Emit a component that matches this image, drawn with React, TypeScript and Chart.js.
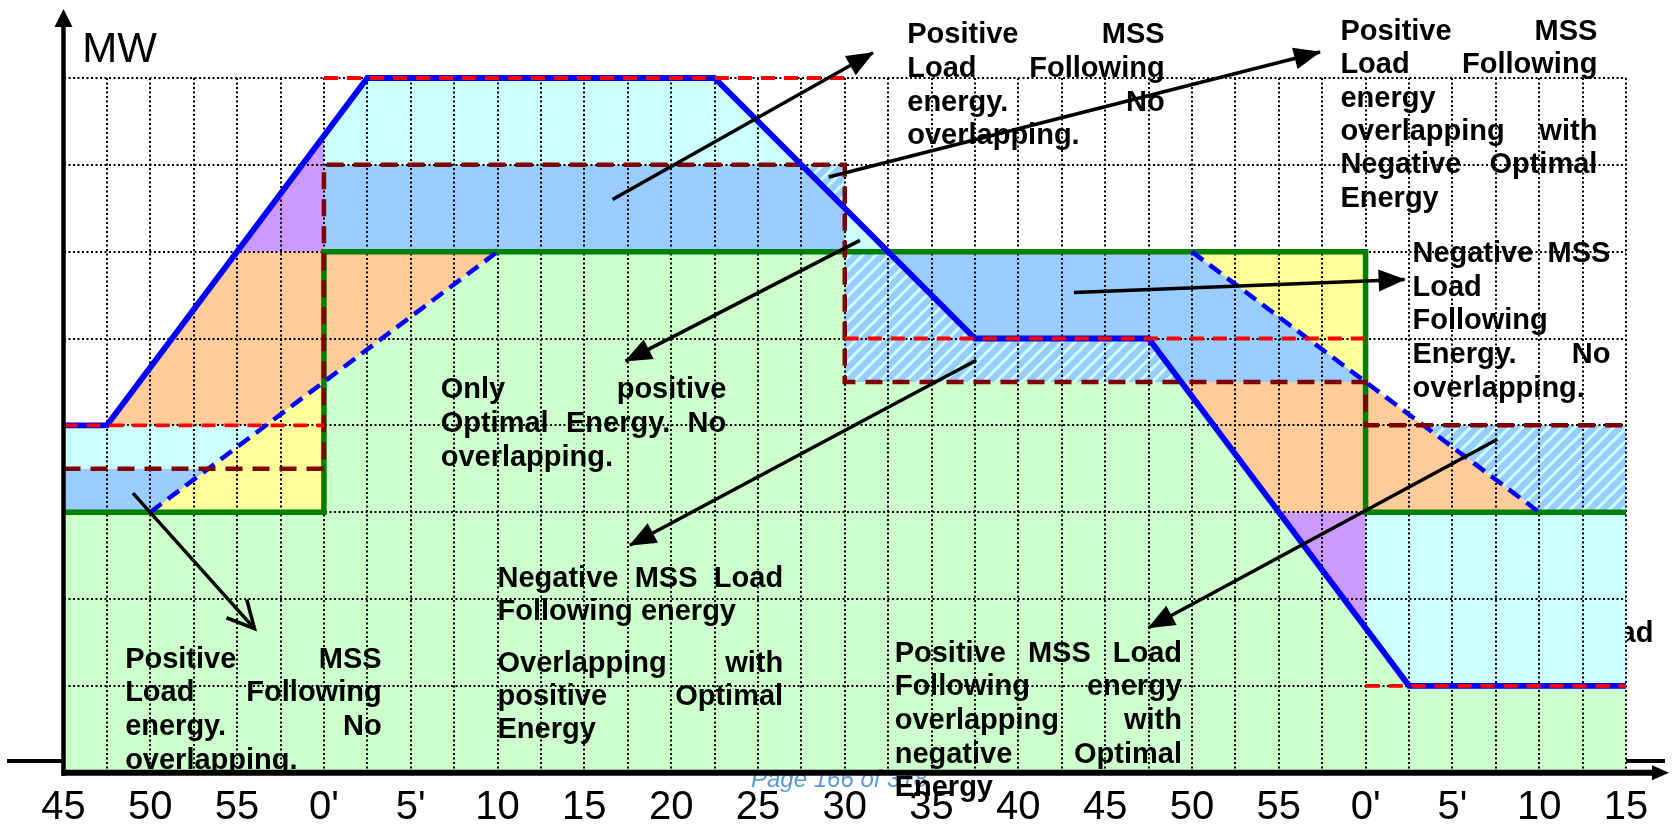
import React, { useEffect, useRef } from 'react';
import { Chart, registerables } from 'chart.js';

Chart.register(...registerables);

const W = 1675;
const H = 825;

// x: grid step (one step = 2.5 minutes), y: MW level
type P = [number, number];

const xTickLabels = ["45", "50", "55", "0'", "5'", "10", "15", "20", "25", "30", "35", "40", "45", "50", "55", "0'", "5'", "10", "15"];
const xMin = 0;
const xMax = 36;
const yMin = 0;
const yMax = 8;

// lines
const optimalSchedule: P[] = [[0, 3], [6, 3], [6, 6], [30, 6], [30, 3], [36, 3]];
const mssLoadFollowing: P[] = [[0, 4], [1, 4], [7, 8], [15, 8], [21, 5], [25, 5], [31, 1], [36, 1]];
const mssSchedule: P[][] = [
  [[0, 4], [6, 4]],
  [[6, 8], [18, 8]],
  [[18, 5], [30, 5]],
  [[30, 1], [36, 1]],
];
const mssBand: P[] = [[0, 3.5], [6, 3.5], [6, 7], [18, 7], [18, 4.5], [30, 4.5], [30, 4], [36, 4]];
const optimalRamps: P[][] = [
  [[2, 3], [10, 6]],
  [[26, 6], [34, 3]],
];

// filled areas
const areaGreen: P[] = [[0, 0], [0, 3], [6, 3], [6, 6], [30, 6], [30, 3], [36, 3], [36, 0]];
const areaBlueLeft: P[] = [[0, 3], [0, 3.5], [3.333, 3.5], [2, 3]];
const areaCyanLeft: P[] = [[0, 3.5], [0, 4], [4.667, 4], [3.333, 3.5]];
const areaYellowLeft: P[] = [[2, 3], [6, 3], [6, 4.5]];
const areaOrangeLeft: P[] = [[1, 4], [4, 6], [10, 6], [4.667, 4]];
const areaPurpleLeft: P[] = [[4, 6], [6, 6], [6, 7.333]];
const areaCyanTop: P[] = [[6, 7], [6, 7.333], [7, 8], [15, 8], [17, 7]];
const areaBlueTop: P[] = [[6, 6], [6, 7], [17, 7], [18, 6.5], [18, 6]];
const areaHatchTop: P[] = [[17, 7], [18, 7], [18, 6.5]];
const areaCyanMid: P[] = [[18, 6], [18, 6.5], [19, 6]];
const areaHatchMid: P[] = [[18, 4.5], [18, 6], [19, 6], [21, 5], [25, 5], [25.75, 4.5]];
const areaBlueMid: P[] = [[19, 6], [26, 6], [30, 4.5], [25.75, 4.5], [25, 5], [21, 5]];
const areaYellowRight: P[] = [[26, 6], [30, 6], [30, 4.5]];
const areaOrangeRight: P[] = [[25.75, 4.5], [30, 4.5], [34, 3], [28, 3]];
const areaPurpleRight: P[] = [[28, 3], [30, 3], [30, 1.667]];
const areaCyanRight: P[] = [[30, 3], [36, 3], [36, 1], [31, 1], [30, 1.667]];
const areaHatchRight: P[] = [[31.333, 4], [36, 4], [36, 3], [34, 3]];

// annotation arrows (tail -> head)
const arrowA: P[] = [[12.65, 6.6], [18.65, 8.29]];
const arrowB: P[] = [[17.63, 6.86], [28.95, 8.3]];
const arrowC: P[] = [[18.35, 6.13], [12.95, 4.74]];
const arrowD: P[] = [[21.03, 4.75], [13.05, 2.62]];
const arrowE: P[] = [[23.28, 5.53], [30.9, 5.68]];
const arrowF: P[] = [[1.6, 3.22], [4.4, 1.66]];
const arrowG: P[] = [[33.04, 3.84], [25.0, 1.67]];

// text annotations
const textBlocks = [
  { lines: ['Positive MSS', 'Load Following', 'energy. No', 'overlapping.'], x0: 19.44, x1: 25.37, y: 8.4, lh: 33.7 },
  { lines: ['Positive MSS', 'Load Following', 'energy', 'overlapping with', 'Negative Optimal', 'Energy'], x0: 29.42, x1: 35.34, y: 8.44, lh: 33.4 },
  { lines: ['Negative MSS', 'Load', 'Following', 'Energy. No', 'overlapping.'], x0: 31.08, x1: 35.64, y: 5.88, lh: 33.7 },
  { lines: ['Only positive', 'Optimal Energy. No', 'overlapping.'], x0: 8.69, x1: 15.27, y: 4.31, lh: 34 },
  { lines: ['Negative MSS Load', 'Following energy'], x0: 10.0, x1: 16.58, y: 2.14, lh: 33 },
  { lines: ['Overlapping with', 'positive Optimal', 'Energy'], x0: 10.0, x1: 16.58, y: 1.16, lh: 33 },
  { lines: ['Positive MSS', 'Load Following', 'energy. No', 'overlapping.'], x0: 1.42, x1: 7.33, y: 1.21, lh: 33.7, clipBottom: true },
  { lines: ['Positive MSS Load', 'Following energy', 'overlapping with', 'negative Optimal', 'Energy'], x0: 19.15, x1: 25.77, y: 1.28, lh: 33.7 },
];
const hiddenLabel = { text: 'Load', x: 36.63, y: 1.51 };
const yAxisTitle = { text: 'MW', x: 0.43, y: 8.19 };
const footer = { text: 'Page 166 of 318', x: 15.84, y: -0.165 };

const FONT = '"Liberation Sans", Arial, Helvetica, sans-serif';

const toXY = (pts: P[]) => pts.map(([x, y]) => ({ x, y }));

function lineDs(pts: P[], color: string, width: number, dash: number[] = []) {
  return {
    data: toXY(pts),
    borderColor: color,
    backgroundColor: color,
    borderWidth: width,
    borderDash: dash,
    borderCapStyle: 'butt',
    borderJoinStyle: 'miter',
    pointRadius: 0,
    fill: false,
    clip: false,
  };
}

function arrowDs(pts: P[], head: 'filled' | 'open') {
  return { ...lineDs(pts, '#000000', 3.5), arrowHead: head };
}

function areaDs(pts: P[], color: any) {
  return {
    data: toXY(pts),
    backgroundColor: color,
    borderColor: 'rgba(0,0,0,0)',
    borderWidth: 0,
    pointRadius: 0,
    fill: 'shape',
  };
}

function makeHatch(ctx: CanvasRenderingContext2D): CanvasPattern | string {
  const s = 13;
  const c = document.createElement('canvas');
  c.width = s;
  c.height = s;
  const g = c.getContext('2d');
  if (!g) return '#99CCFF';
  g.fillStyle = '#99CCFF';
  g.fillRect(0, 0, s, s);
  g.strokeStyle = '#CCFFFF';
  g.lineWidth = 3;
  g.beginPath();
  g.moveTo(-3, s + 3);
  g.lineTo(s + 3, -3);
  g.moveTo(-3, 3);
  g.lineTo(3, -3);
  g.moveTo(s - 3, s + 3);
  g.lineTo(s + 3, s - 3);
  g.stroke();
  return ctx.createPattern(c, 'repeat') || '#99CCFF';
}

const decorPlugin = {
  id: 'decor',
  afterDatasetsDraw(chart: any) {
    const ctx: CanvasRenderingContext2D = chart.ctx;
    chart.data.datasets.forEach((ds: any, i: number) => {
      if (!ds.arrowHead) return;
      const pts = chart.getDatasetMeta(i).data;
      const a = pts[pts.length - 2];
      const b = pts[pts.length - 1];
      const ang = Math.atan2(b.y - a.y, b.x - a.x);
      ctx.save();
      ctx.translate(b.x, b.y);
      ctx.rotate(ang);
      if (ds.arrowHead === 'open') {
        const L = 30;
        const t = (27 * Math.PI) / 180;
        ctx.strokeStyle = '#000';
        ctx.lineWidth = 3.5;
        ctx.lineJoin = 'miter';
        ctx.beginPath();
        ctx.moveTo(-L * Math.cos(t), -L * Math.sin(t));
        ctx.lineTo(0, 0);
        ctx.lineTo(-L * Math.cos(t), L * Math.sin(t));
        ctx.stroke();
      } else {
        ctx.fillStyle = '#000';
        ctx.beginPath();
        ctx.moveTo(1, 0);
        ctx.lineTo(-26, -11);
        ctx.lineTo(-26, 11);
        ctx.closePath();
        ctx.fill();
      }
      ctx.restore();
    });
  },
  afterDraw(chart: any) {
    const ctx: CanvasRenderingContext2D = chart.ctx;
    const xs = chart.scales.x;
    const ys = chart.scales.y;
    const area = chart.chartArea;
    const px = (v: number) => xs.getPixelForValue(v);
    const py = (v: number) => ys.getPixelForValue(v);

    // footer (behind axis)
    ctx.save();
    ctx.font = `italic 24px ${FONT}`;
    ctx.fillStyle = '#5B9BD5';
    ctx.textBaseline = 'alphabetic';
    ctx.fillText(footer.text, px(footer.x), py(footer.y));
    ctx.restore();

    // text blocks
    ctx.save();
    ctx.font = `bold 29px ${FONT}`;
    ctx.fillStyle = '#000';
    ctx.textBaseline = 'alphabetic';
    textBlocks.forEach((b: any) => {
      const left = px(b.x0);
      const width = px(b.x1) - left;
      let y = py(b.y);
      ctx.save();
      if (b.clipBottom) {
        ctx.beginPath();
        ctx.rect(0, 0, W, area.bottom);
        ctx.clip();
      }
      b.lines.forEach((line: string, i: number) => {
        const words = line.split(' ');
        const last = i === b.lines.length - 1;
        if (!last && words.length > 1) {
          const total = words.reduce((s, w) => s + ctx.measureText(w).width, 0);
          const gap = (width - total) / (words.length - 1);
          let x = left;
          words.forEach((w) => {
            ctx.fillText(w, x, y);
            x += ctx.measureText(w).width + gap;
          });
        } else {
          ctx.fillText(line, left, y);
        }
        y += b.lh;
      });
      ctx.restore();
    });
    // label hidden behind plot, only its tail visible
    ctx.save();
    ctx.beginPath();
    ctx.rect(area.right + 1, 0, W, H);
    ctx.clip();
    ctx.textAlign = 'right';
    ctx.fillText(hiddenLabel.text, px(hiddenLabel.x), py(hiddenLabel.y));
    ctx.restore();
    ctx.restore();

    // MW
    ctx.save();
    ctx.font = `42px ${FONT}`;
    ctx.fillStyle = '#000';
    ctx.fillText(yAxisTitle.text, px(yAxisTitle.x), py(yAxisTitle.y));
    ctx.restore();

    // axes
    const x0 = px(xMin);
    const y0 = py(yMin);
    ctx.save();
    ctx.strokeStyle = '#000';
    ctx.fillStyle = '#000';
    // stray baseline pieces
    ctx.lineWidth = 4;
    ctx.beginPath();
    ctx.moveTo(7, y0 - 11.7);
    ctx.lineTo(x0, y0 - 11.7);
    ctx.moveTo(area.right, y0 - 11.7);
    ctx.lineTo(area.right + 39, y0 - 11.7);
    ctx.stroke();
    // y axis
    ctx.lineWidth = 4.5;
    ctx.beginPath();
    ctx.moveTo(x0, y0 + 3);
    ctx.lineTo(x0, area.top - 52);
    ctx.stroke();
    ctx.beginPath();
    ctx.moveTo(x0, area.top - 69);
    ctx.lineTo(x0 - 9, area.top - 51);
    ctx.lineTo(x0 + 9, area.top - 51);
    ctx.closePath();
    ctx.fill();
    // x axis
    ctx.lineWidth = 6;
    ctx.beginPath();
    ctx.moveTo(x0 - 2, y0);
    ctx.lineTo(area.right + 27, y0);
    ctx.stroke();
    ctx.beginPath();
    ctx.moveTo(area.right + 43, y0);
    ctx.lineTo(area.right + 26, y0 - 7.5);
    ctx.lineTo(area.right + 26, y0 + 7.5);
    ctx.closePath();
    ctx.fill();
    ctx.restore();
  },
};

export default function App() {
  const ref = useRef<HTMLCanvasElement>(null);
  useEffect(() => {
    const canvas = ref.current;
    if (!canvas) return;
    const ctx = canvas.getContext('2d') as CanvasRenderingContext2D;
    const hatch = makeHatch(ctx);

    const datasets: any[] = [
      arrowDs(arrowA, 'filled'),
      arrowDs(arrowB, 'filled'),
      arrowDs(arrowC, 'filled'),
      arrowDs(arrowD, 'filled'),
      arrowDs(arrowE, 'filled'),
      arrowDs(arrowF, 'open'),
      arrowDs(arrowG, 'filled'),
      ...mssSchedule.map((s) => lineDs(s, '#FF0000', 3.8, [14, 9])),
      lineDs(mssLoadFollowing, '#0000FF', 5.8),
      lineDs(mssBand, '#800000', 4.5, [17, 10]),
      ...optimalRamps.map((s) => lineDs(s, '#0000FF', 4.5, [14, 8])),
      lineDs(optimalSchedule, '#008000', 5.5),
      areaDs(areaBlueLeft, '#99CCFF'),
      areaDs(areaCyanLeft, '#CCFFFF'),
      areaDs(areaYellowLeft, '#FFFF99'),
      areaDs(areaOrangeLeft, '#FFCC99'),
      areaDs(areaPurpleLeft, '#CC99FF'),
      areaDs(areaCyanTop, '#CCFFFF'),
      areaDs(areaBlueTop, '#99CCFF'),
      areaDs(areaHatchTop, hatch),
      areaDs(areaCyanMid, '#CCFFFF'),
      areaDs(areaHatchMid, hatch),
      areaDs(areaBlueMid, '#99CCFF'),
      areaDs(areaYellowRight, '#FFFF99'),
      areaDs(areaOrangeRight, '#FFCC99'),
      areaDs(areaPurpleRight, '#CC99FF'),
      areaDs(areaCyanRight, '#CCFFFF'),
      areaDs(areaHatchRight, hatch),
      areaDs(areaGreen, '#CCFFCC'),
    ];

    const chart = new Chart(canvas, {
      type: 'line',
      data: { datasets },
      plugins: [decorPlugin],
      options: {
        responsive: false,
        animation: false,
        devicePixelRatio: 1,
        events: [],
        layout: { padding: { left: 63.5, right: W - 1626, top: 78, bottom: 0 } },
        plugins: {
          legend: { display: false },
          tooltip: { enabled: false },
          filler: { drawTime: 'beforeDraw', propagate: false },
        },
        scales: {
          x: {
            type: 'linear',
            min: xMin,
            max: xMax,
            ticks: {
              stepSize: 1,
              maxTicksLimit: 200,
              autoSkip: false,
              maxRotation: 0,
              minRotation: 0,
              padding: 10.8,
              color: '#000',
              font: { family: FONT, size: 40 },
              callback: (value: any) => {
                const n = Math.round(Number(value));
                return n % 2 === 0 ? xTickLabels[n / 2] : '';
              },
            },
            grid: { color: '#000', lineWidth: 2, drawTicks: false },
            border: { display: false, dash: [2, 2.5] },
            afterFit: (s: any) => {
              s.height = H - 772.7;
            },
          },
          y: {
            type: 'linear',
            min: yMin,
            max: yMax,
            ticks: { display: false, stepSize: 1 },
            grid: { color: '#000', lineWidth: 2, drawTicks: false },
            border: { display: false, dash: [2, 2.5] },
          },
        },
      } as any,
    } as any);
    return () => chart.destroy();
  }, []);

  return (
    <div style={{ position: 'absolute', left: 0, top: 0, width: W, height: H, background: '#fff', overflow: 'hidden' }}>
      <canvas ref={ref} width={W} height={H} style={{ display: 'block', width: W, height: H }} />
    </div>
  );
}
